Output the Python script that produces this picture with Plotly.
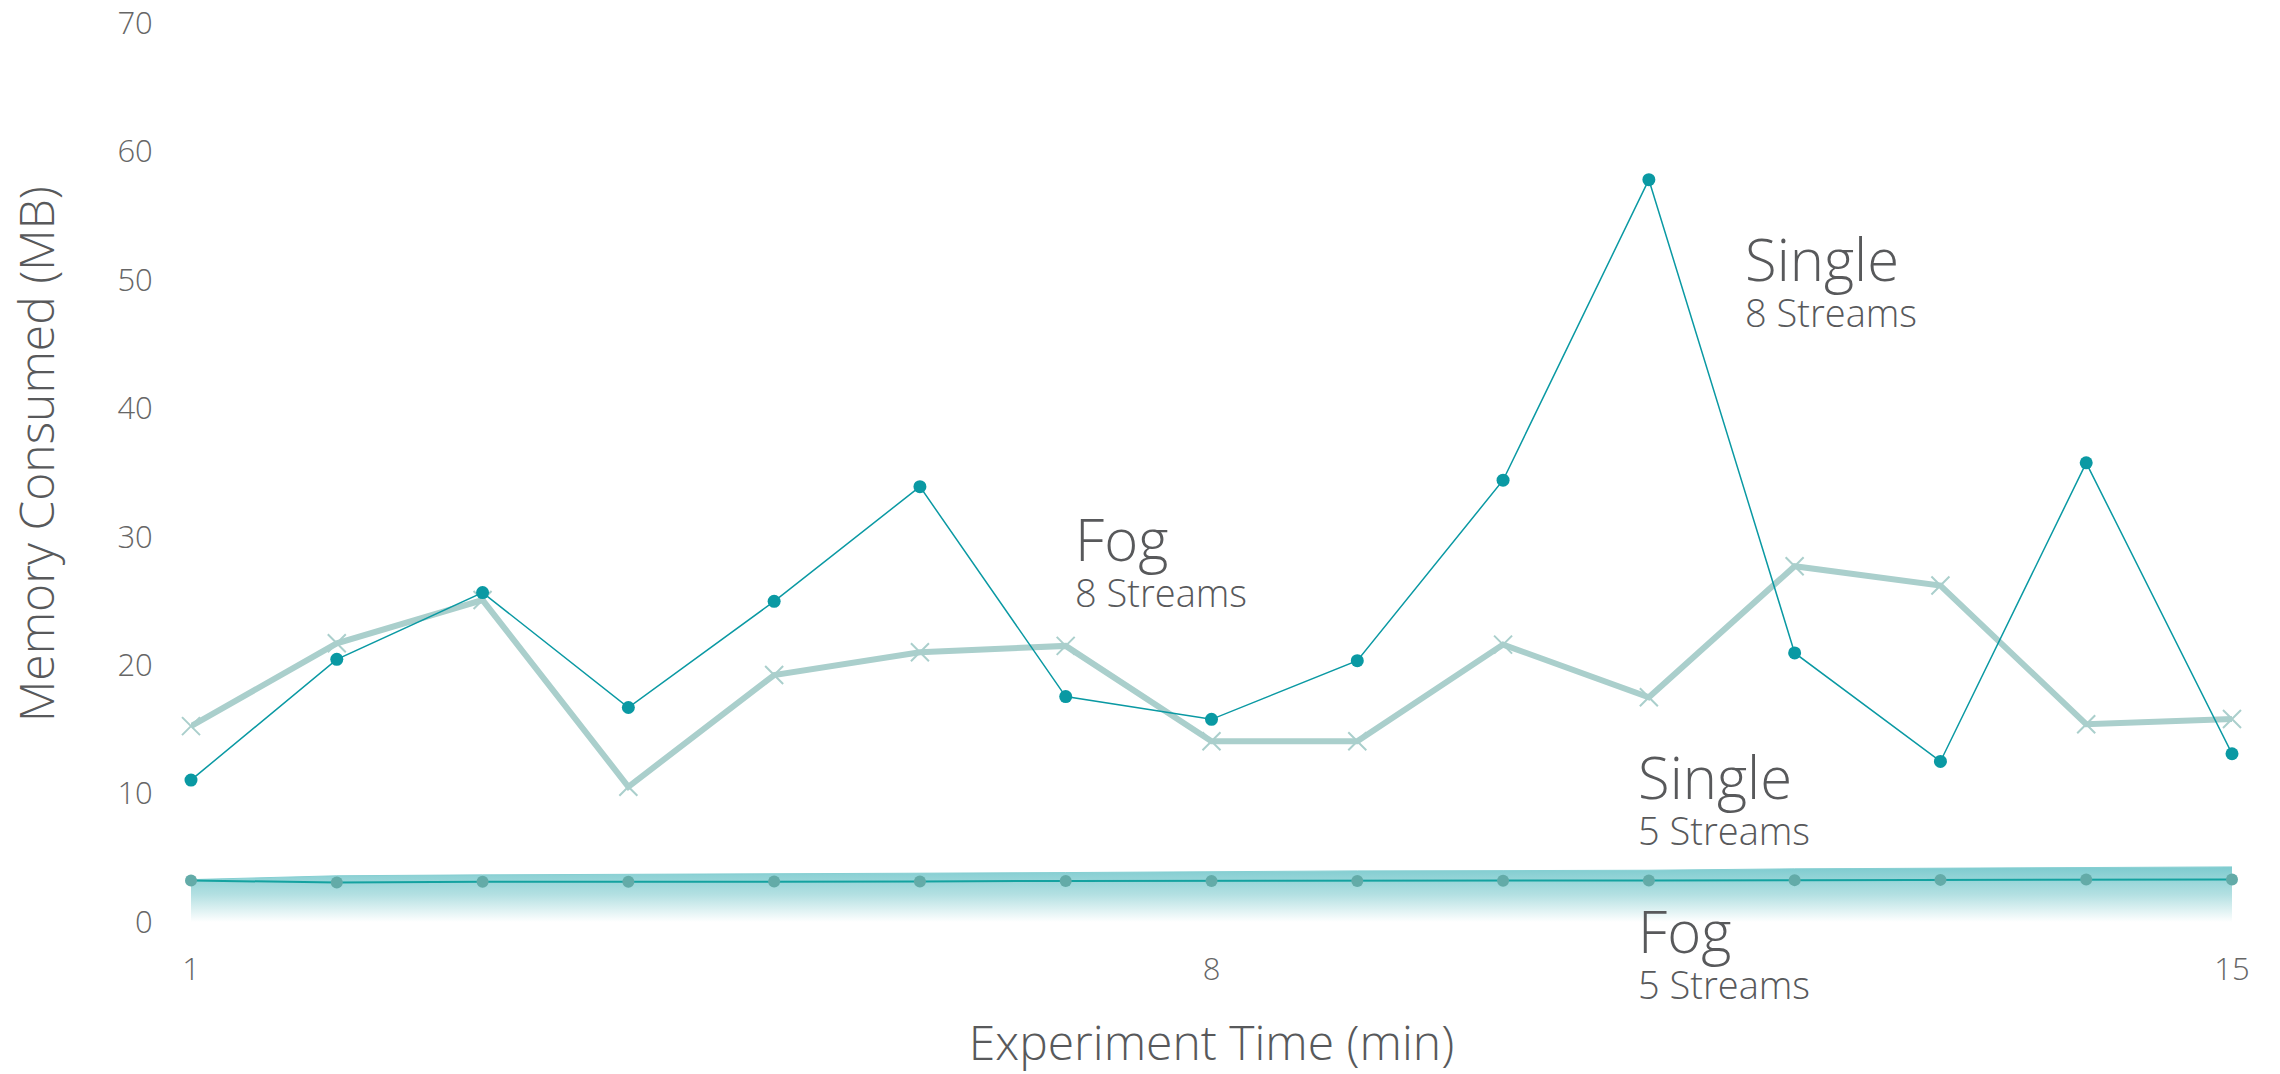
import plotly.graph_objects as go

minutes = list(range(1, 16))

single_8 = [11.05, 20.45, 25.65, 16.7, 24.97, 33.9, 17.55, 15.78, 20.35, 34.4, 57.8, 20.95, 12.5, 35.75, 13.1]
fog_8 = [15.25, 21.7, 25.07, 10.53, 19.23, 21.0, 21.5, 14.08, 14.08, 21.6, 17.5, 27.7, 26.2, 15.4, 15.8]
single_5 = [3.3, 3.6, 3.67, 3.7, 3.76, 3.8, 3.85, 3.93, 3.98, 4.0, 4.03, 4.14, 4.19, 4.24, 4.29]
fog_5 = [3.23, 3.08, 3.13, 3.13, 3.15, 3.15, 3.2, 3.2, 3.2, 3.22, 3.24, 3.26, 3.28, 3.31, 3.31]

x_ticks = [1, 8, 15]
y_ticks = [0, 10, 20, 30, 40, 50, 60, 70]

# label annotations: (big text, small text, x, y of the label's top)
labels = [
    ("Fog", "8 Streams", 7.075, 33.09),
    ("Single", "8 Streams", 11.672, 54.89),
    ("Single", "5 Streams", 10.937, 14.53),
    ("Fog", "5 Streams", 10.937, 2.58),
]

FONT = "Open Sans"
TEXT = "#58595b"

fig = go.Figure()

fig.add_trace(go.Scatter(
    x=minutes, y=single_5, name="Single 5 Streams", mode="lines",
    line=dict(color="#86cfd2", width=1),
    fill="tozeroy",
    fillgradient=dict(type="vertical",
                      colorscale=[[0, "rgba(255,255,255,1)"], [0.5, "#b3e0e2"], [1, "#7dcbcf"]]),
    cliponaxis=False, showlegend=False,
))

fig.add_trace(go.Scatter(
    x=minutes, y=fog_5, name="Fog 5 Streams", mode="lines+markers",
    line=dict(color="#14a2a0", width=2),
    marker=dict(color="#63aba8", size=12, symbol="circle"),
    cliponaxis=False, showlegend=False,
))

fig.add_trace(go.Scatter(
    x=minutes, y=fog_8, name="Fog 8 Streams", mode="lines+markers",
    line=dict(color="#aacfcc", width=6),
    marker=dict(color="#aacfcc", size=18, symbol="x-thin", line=dict(color="#aacfcc", width=2)),
    cliponaxis=False, showlegend=False,
))

fig.add_trace(go.Scatter(
    x=minutes, y=single_8, name="Single 8 Streams", mode="lines+markers",
    line=dict(color="#0a99a3", width=1.5),
    marker=dict(color="#0a99a3", size=13, symbol="circle"),
    cliponaxis=False, showlegend=False,
))

for big, small, lx, ytop in labels:
    fig.add_annotation(
        x=lx, y=ytop, showarrow=False, xanchor="left", yanchor="top", align="left",
        text=f"<span style='font-size:58px'>{big}</span><br><span style='font-size:38px'>{small}</span>",
        font=dict(family=FONT, size=35, color=TEXT, weight=300), xshift=-4,
    )

# y-axis title (placed as a rotated annotation so it sits where the reference has it)
fig.add_annotation(
    x=-0.0762, y=0.521, xref="paper", yref="paper", showarrow=False,
    xanchor="center", yanchor="middle", textangle=-90,
    text="Memory Consumed (MB)",
    font=dict(family=FONT, size=48, color=TEXT, weight=300),
)

fig.update_layout(
    width=2280, height=1074,
    margin=dict(l=190.5, r=48, t=23, b=152, autoexpand=False),
    paper_bgcolor="white", plot_bgcolor="white",
    font=dict(family=FONT, color="#666666", weight=300),
    xaxis=dict(
        range=[1, 15], tickvals=x_ticks, ticktext=[str(v) for v in x_ticks],
        showgrid=False, zeroline=False, showline=False,
        ticks="outside", ticklen=0, ticklabelstandoff=20,
        tickfont=dict(family=FONT, size=31, color="#666666", weight=300),
        title=dict(text="Experiment Time (min)", standoff=48,
                   font=dict(family=FONT, size=48, color=TEXT, weight=300)),
    ),
    yaxis=dict(
        range=[0, 70], tickvals=y_ticks,
        showgrid=False, zeroline=False, showline=False,
        ticks="outside", ticklen=0, ticklabelstandoff=31,
        tickfont=dict(family=FONT, size=31, color="#666666", weight=300),
    ),
)

fig.write_html("out.html")
